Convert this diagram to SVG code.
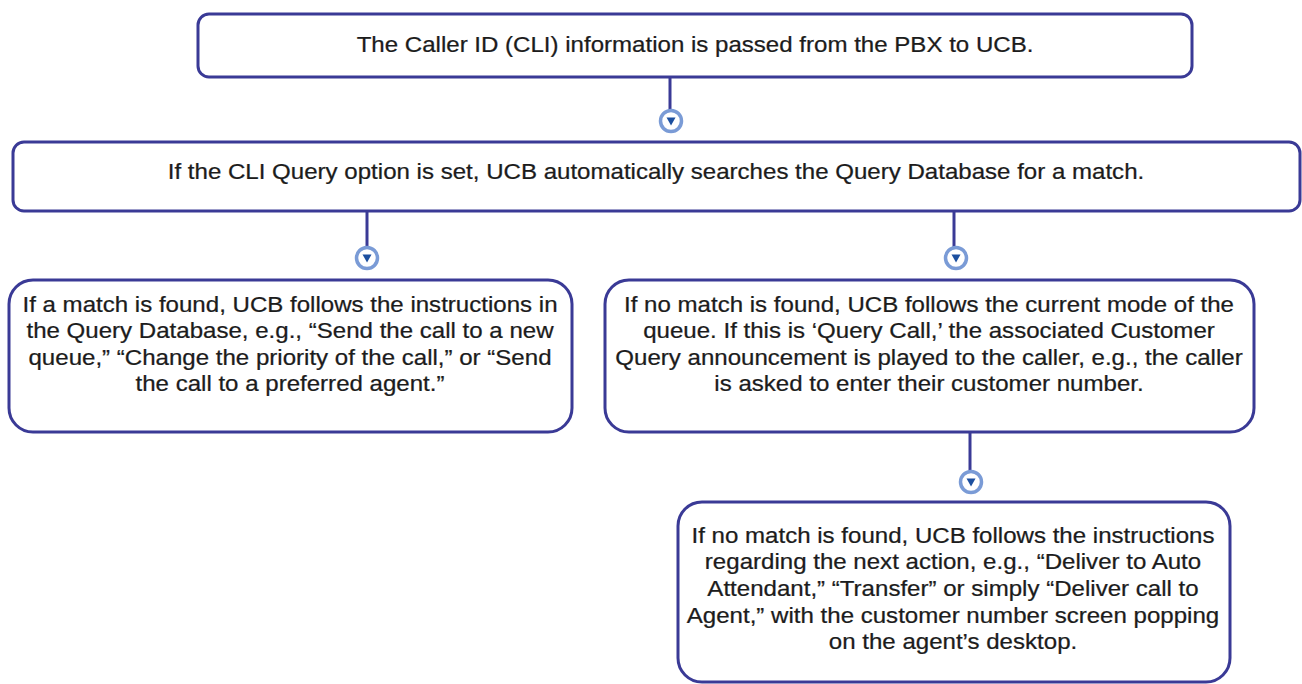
<svg xmlns="http://www.w3.org/2000/svg" width="1302" height="684" viewBox="0 0 1302 684">
<defs>
<style>
.box{fill:#fff;stroke:#3a3a96;stroke-width:3}
.txt{font-family:"Liberation Sans",Arial,sans-serif;font-size:21.5px;fill:#1c1c1c;stroke:#1c1c1c;stroke-width:0.25;text-anchor:middle}
.line{stroke:#3a3a96;stroke-width:3;fill:none}
.ring{fill:#fff;stroke:#7a9bd6;stroke-width:3.5}
.tri{fill:#1c4f9f}
</style>
<g id="marker-down">
<circle class="ring" cx="0" cy="0" r="10.5"/>
<polygon class="tri" points="-4.5,-3.5 4.5,-3.5 0,4.5"/>
</g>
</defs>
<rect width="1302" height="684" fill="#fff"/>

<g id="connectors">
<line class="line" x1="670" y1="77" x2="670" y2="110"/>
<use href="#marker-down" x="671" y="121"/>
<line class="line" x1="367" y1="211" x2="367" y2="247"/>
<use href="#marker-down" x="367" y="258"/>
<line class="line" x1="954" y1="211" x2="954" y2="247"/>
<use href="#marker-down" x="956" y="258"/>
<line class="line" x1="970" y1="432" x2="970" y2="470"/>
<use href="#marker-down" x="971" y="482"/>
</g>

<g id="node1">
<rect class="box" x="198" y="14" width="994" height="63" rx="11"/>
<g transform="translate(695 0) scale(1.12 1)">
<text class="txt" x="0" y="52">The Caller ID (CLI) information is passed from the PBX to UCB.</text>
</g>
</g>

<g id="node2">
<rect class="box" x="13" y="142" width="1287" height="69" rx="11"/>
<g transform="translate(656 0) scale(1.12 1)">
<text class="txt" x="0" y="179">If the CLI Query option is set, UCB automatically searches the Query Database for a match.</text>
</g>
</g>

<g id="node3">
<rect class="box" x="9" y="280" width="563" height="152" rx="24"/>
<g transform="translate(290 0) scale(1.12 1)">
<text class="txt" x="0" y="312">If a match is found, UCB follows the instructions in</text>
<text class="txt" x="0" y="338.5">the Query Database, e.g., “Send the call to a new</text>
<text class="txt" x="0" y="365">queue,” “Change the priority of the call,” or “Send</text>
<text class="txt" x="0" y="391.5">the call to a preferred agent.”</text>
</g>
</g>

<g id="node4">
<rect class="box" x="605" y="280" width="649" height="152" rx="24"/>
<g transform="translate(929 0) scale(1.12 1)">
<text class="txt" x="0" y="312">If no match is found, UCB follows the current mode of the</text>
<text class="txt" x="0" y="338.5">queue. If this is ‘Query Call,’ the associated Customer</text>
<text class="txt" x="0" y="365">Query announcement is played to the caller, e.g., the caller</text>
<text class="txt" x="0" y="391.5">is asked to enter their customer number.</text>
</g>
</g>

<g id="node5">
<rect class="box" x="678" y="502" width="552" height="180" rx="24"/>
<g transform="translate(953 0) scale(1.12 1)">
<text class="txt" x="0" y="543">If no match is found, UCB follows the instructions</text>
<text class="txt" x="0" y="569.5">regarding the next action, e.g., “Deliver to Auto</text>
<text class="txt" x="0" y="596">Attendant,” “Transfer” or simply “Deliver call to</text>
<text class="txt" x="0" y="622.5">Agent,” with the customer number screen popping</text>
<text class="txt" x="0" y="649">on the agent’s desktop.</text>
</g>
</g>
</svg>
